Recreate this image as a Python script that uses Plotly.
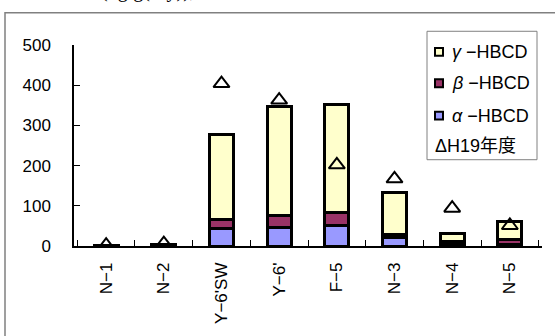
import plotly.graph_objects as go

categories = ["N−1", "N−2", "Y−6'SW", "Y−6'", "F−5", "N−3", "N−4", "N−5"]
alpha = [0.5, 1, 43, 46, 50, 20, 6, 4]
beta = [0.3, 1, 24, 31, 33, 9, 4, 13]
gamma = [0.5, 1, 211, 270, 269, 103, 22, 44]
h19 = [2, 6, 404, 363, 202, 167, 94, 51]

W, H = 555, 336
L, R, T, B = 74, 13, 45, 86
pw, ph = W - L - R, H - T - B

def px(x):
    return (x - L) / pw

def py(y):
    return (H - B - y) / ph

fig = go.Figure()
bar_line = dict(color="black", width=3)
fig.add_trace(go.Bar(x=categories, y=alpha, name="α−HBCD", marker=dict(color="#9999FF", line=bar_line)))
fig.add_trace(go.Bar(x=categories, y=beta, name="β−HBCD", marker=dict(color="#993366", line=bar_line)))
fig.add_trace(go.Bar(x=categories, y=gamma, name="γ−HBCD", marker=dict(color="#FFFFCC", line=bar_line)))
fig.add_trace(go.Scatter(x=categories, y=h19, mode="markers", name="H19年度",
                         marker=dict(symbol="triangle-up-open", size=14, color="black",
                                     line=dict(color="black", width=2))))

font = "Liberation Sans, Arial, Noto Sans CJK JP, sans-serif"
fig.update_layout(
    width=W, height=H,
    margin=dict(l=L, r=R, t=T, b=B),
    barmode="stack", bargap=0.58,
    showlegend=False,
    plot_bgcolor="white", paper_bgcolor="white",
    font=dict(family=font, size=17, color="black"),
    xaxis=dict(showline=True, linecolor="black", linewidth=1.5, ticks="inside",
               ticklen=6, tickcolor="black", tickson="boundaries", tickangle=-90,
               tickfont=dict(size=17), ticklabelstandoff=8, showgrid=False),
    yaxis=dict(range=[0, 500], tickvals=[0, 100, 200, 300, 400, 500], showline=True,
               linecolor="black", linewidth=1.5, ticks="inside", ticklen=6,
               tickcolor="black", showgrid=False, zeroline=False,
               tickfont=dict(size=17), ticklabelstandoff=18),
)

# outer chart frame (partially outside the view)
fig.add_shape(type="rect", xref="paper", yref="paper", x0=px(5), y0=py(400), x1=px(600), y1=py(12),
              line=dict(color="#808080", width=1.5), fillcolor="rgba(0,0,0,0)", layer="below")

# partially cut title text at top
fig.add_annotation(text="(ng/g(dry)),", xref="paper", yref="paper", x=px(148), y=py(3),
                   xanchor="center", yanchor="bottom", showarrow=False,
                   font=dict(family="Liberation Serif, Times New Roman, serif", size=20))

# legend box
fig.add_shape(type="rect", xref="paper", yref="paper", x0=px(427), y0=py(162), x1=px(537), y1=py(31),
              line=dict(color="#808080", width=1), fillcolor="white")
legend_items = [("<i>γ</i> −HBCD", "#FFFFCC", 52), ("<i>β</i> −HBCD", "#993366", 84), ("<i>α</i> −HBCD", "#9999FF", 117)]
for label, col, yy in legend_items:
    fig.add_shape(type="rect", xref="paper", yref="paper", x0=px(435), y0=py(yy + 4), x1=px(443), y1=py(yy - 4),
                  line=dict(color="black", width=2), fillcolor=col)
    fig.add_annotation(text=label, xref="paper", yref="paper", x=px(450), y=py(yy), xanchor="left",
                       yanchor="middle", showarrow=False, font=dict(size=18))
fig.add_annotation(text="ΔH19年度", xref="paper", yref="paper", x=px(433), y=py(148), xanchor="left",
                   yanchor="middle", showarrow=False, font=dict(size=18))

fig.write_html("out.html")
